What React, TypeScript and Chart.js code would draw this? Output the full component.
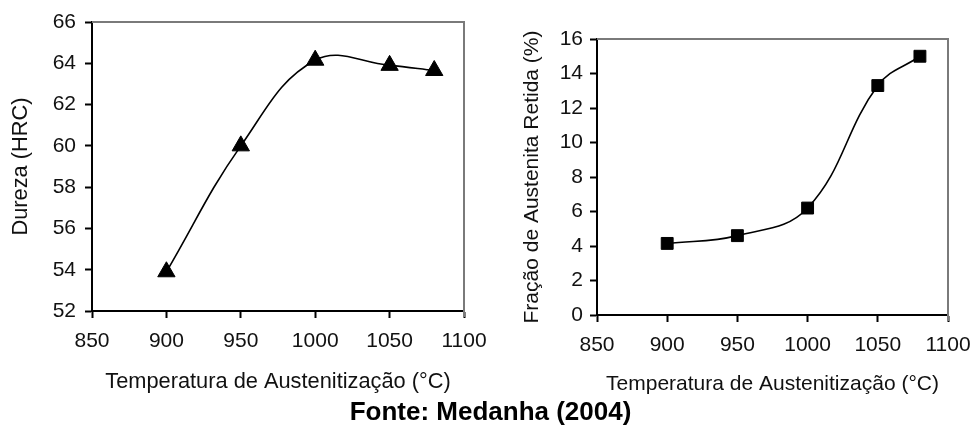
import React, { useEffect, useRef } from 'react';
import { Chart, registerables } from 'chart.js';

Chart.register(...registerables);

// ---- data ----
const temperatures = [900, 950, 1000, 1050, 1080];
const hardnessHRC = [53.9, 60.0, 64.15, 63.9, 63.65];
const retainedAustenite = [4.15, 4.6, 6.2, 13.3, 15.0];
const xTickValues = [850, 900, 950, 1000, 1050, 1100];
const hardnessTickValues = [52, 54, 56, 58, 60, 62, 64, 66];
const austeniteTickValues = [0, 2, 4, 6, 8, 10, 12, 14, 16];
const xTitleText = 'Temperatura de Austenitização (°C)';
const hardnessTitle = 'Dureza (HRC)';
const austeniteTitle = 'Fração de Austenita Retida (%)';
const sourceText = 'Fonte: Medanha (2004)';

const FONT = '"Liberation Sans", Arial, sans-serif';
const TEXT = '#111111';

const framePlugin = {
  id: 'frameTopRight',
  beforeDatasetsDraw(chart: any) {
    const { ctx, chartArea } = chart;
    const { left, top, right, bottom } = chartArea;
    ctx.save();
    ctx.strokeStyle = '#7a7a7a';
    ctx.lineWidth = 2;
    ctx.beginPath();
    ctx.moveTo(left, top);
    ctx.lineTo(right, top);
    ctx.lineTo(right, bottom + 6);
    ctx.stroke();
    ctx.restore();
  },
};

type Spec = {
  w: number;
  h: number;
  area: { left: number; top: number; right: number; bottom: number };
  ys: number[];
  yTicks: number[];
  yTitle: string;
  pointStyle: string;
  radius: number;
  yTitlePad: number;
  xTitlePad: number;
  yLabelPad: number;
  titleSize: number;
  tickSize: number;
};

function makeConfig(s: Spec): any {
  return {
    type: 'line',
    data: {
      datasets: [
        {
          data: temperatures.map((t, i) => ({ x: t, y: s.ys[i] })),
          borderColor: '#000',
          borderWidth: 1.6,
          tension: 0.4,
          pointStyle: s.pointStyle,
          pointRadius: s.radius,
          pointBackgroundColor: '#000',
          pointBorderColor: '#000',
          pointBorderWidth: 1,
          clip: false,
        },
      ],
    },
    options: {
      responsive: false,
      animation: false,
      events: [],
      layout: {
        padding: { left: 0, top: s.area.top, right: s.w - s.area.right, bottom: 0 },
      },
      plugins: { legend: { display: false }, tooltip: { enabled: false }, title: { display: false } },
      scales: {
        x: {
          type: 'linear',
          position: 'bottom',
          min: xTickValues[0],
          max: xTickValues[xTickValues.length - 1],
          afterBuildTicks: (sc: any) => {
            sc.ticks = xTickValues.map((v) => ({ value: v }));
          },
          afterFit: (sc: any) => {
            sc.height = s.h - s.area.bottom;
            sc.paddingLeft = 0;
            sc.paddingRight = 0;
          },
          ticks: {
            color: TEXT,
            font: { family: FONT, size: s.tickSize },
            padding: 11,
            maxRotation: 0,
            autoSkip: false,
            callback: (v: any) => String(v),
          },
          grid: { display: true, drawOnChartArea: false, drawTicks: true, tickLength: 7, tickColor: '#000', tickWidth: 2 },
          border: { display: true, color: '#000', width: 2 },
          title: {
            display: true,
            text: xTitleText,
            color: TEXT,
            font: { family: FONT, size: s.titleSize },
            padding: { top: 0, bottom: s.xTitlePad },
          },
        },
        y: {
          type: 'linear',
          position: 'left',
          min: s.yTicks[0],
          max: s.yTicks[s.yTicks.length - 1],
          afterBuildTicks: (sc: any) => {
            sc.ticks = s.yTicks.map((v) => ({ value: v }));
          },
          afterFit: (sc: any) => {
            sc.width = s.area.left;
            sc.paddingTop = 0;
            sc.paddingBottom = 0;
          },
          ticks: {
            color: TEXT,
            font: { family: FONT, size: s.tickSize },
            padding: s.yLabelPad,
            autoSkip: false,
            callback: (v: any) => String(v),
          },
          grid: { display: true, drawOnChartArea: false, drawTicks: true, tickLength: 7, tickColor: '#000', tickWidth: 2 },
          border: { display: true, color: '#000', width: 2 },
          title: {
            display: true,
            text: s.yTitle,
            color: TEXT,
            font: { family: FONT, size: s.titleSize },
            padding: { top: s.yTitlePad, bottom: 0 },
          },
        },
      },
    },
    plugins: [framePlugin],
  };
}

function ChartCanvas({ spec }: { spec: Spec }) {
  const ref = useRef<HTMLCanvasElement | null>(null);
  useEffect(() => {
    if (!ref.current) return;
    const chart = new Chart(ref.current, makeConfig(spec));
    return () => chart.destroy();
  }, []);
  return <canvas ref={ref} width={spec.w} height={spec.h} style={{ display: 'block', width: spec.w, height: spec.h }} />;
}

const leftSpec: Spec = {
  w: 490,
  h: 400,
  area: { left: 92, top: 22, right: 464, bottom: 311 },
  ys: hardnessHRC,
  yTicks: hardnessTickValues,
  yTitle: hardnessTitle,
  pointStyle: 'triangle',
  radius: 10,
  yTitlePad: 8.2,
  xTitlePad: 5,
  yLabelPad: 9,
  titleSize: 21.8,
  tickSize: 21,
};

const rightSpec: Spec = {
  w: 484,
  h: 400,
  area: { left: 107, top: 39, right: 458, bottom: 315 },
  ys: retainedAustenite,
  yTicks: austeniteTickValues,
  yTitle: austeniteTitle,
  pointStyle: 'rect',
  radius: 8.4,
  yTitlePad: 30,
  xTitlePad: 3,
  yLabelPad: 7,
  titleSize: 21,
  tickSize: 21,
};

export default function App() {
  return (
    <div style={{ position: 'fixed', left: 0, top: 0, width: 974, height: 427, background: '#fff', overflow: 'hidden' }}>
      <div style={{ position: 'absolute', left: 0, top: 0 }}>
        <ChartCanvas spec={leftSpec} />
      </div>
      <div style={{ position: 'absolute', left: 490, top: 0 }}>
        <ChartCanvas spec={rightSpec} />
      </div>
      <div
        style={{
          position: 'absolute',
          left: 0,
          width: 981,
          top: 396,
          textAlign: 'center',
          fontFamily: FONT,
          fontWeight: 'bold',
          fontSize: 26,
          color: '#000',
          whiteSpace: 'nowrap',
        }}
      >
        {sourceText}
      </div>
    </div>
  );
}
